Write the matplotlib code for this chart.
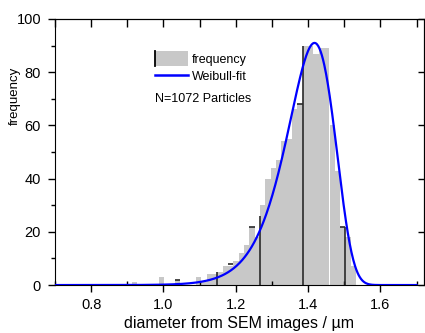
import numpy as np
import matplotlib.pyplot as plt
from matplotlib.patches import Rectangle, Patch
from matplotlib.lines import Line2D
from matplotlib.legend_handler import HandlerBase
from matplotlib.ticker import MultipleLocator

plt.rcParams['font.family'] = ['Liberation Sans', 'DejaVu Sans']

# histogram: left edge of each bin (um) and counts
bin_left = [0.913, 0.928, 0.942, 0.957, 0.972, 0.987, 1.001, 1.016, 1.031, 1.046,
            1.060, 1.075, 1.090, 1.105, 1.119, 1.134, 1.149, 1.164, 1.178, 1.193,
            1.208, 1.223, 1.237, 1.252, 1.267, 1.282, 1.296, 1.311, 1.326, 1.341,
            1.355, 1.370, 1.385, 1.400, 1.414, 1.429, 1.444, 1.459, 1.473, 1.488,
            1.503, 1.518]
counts = [1, 0, 0, 0, 0, 3, 0, 0, 2, 0,
          0, 0, 3, 1, 4, 4, 5, 7, 7, 9,
          12, 15, 22, 18, 30, 40, 44, 47, 54, 55,
          66, 68, 90, 90, 87, 89, 89, 60, 43, 22,
          18, 7]
bin_w = 0.01475

# black drop lines and small caps seen in the original
drop_x = [1.149, 1.267, 1.385, 1.503]
drop_h = [5, 26, 90, 22]
cap_x = [1.031, 1.178, 1.237, 1.370, 1.488]
cap_h = [2, 8, 22, 68, 22]

# Weibull fit parameters
wb_scale = 1.4205
wb_shape = 22
wb_peak = 91
fit_range = (0.7, 1.7)


class FreqHandler(HandlerBase):
    # gray box with a black left edge, like the original legend
    def create_artists(self, legend, orig_handle, xdescent, ydescent,
                       width, height, fontsize, trans):
        y0 = -ydescent - 0.35 * height
        h = 1.7 * height
        box = Rectangle((-xdescent, y0), width, h, facecolor='#c8c8c8',
                        edgecolor='none', transform=trans)
        edge = Line2D([-xdescent, -xdescent], [y0, y0 + h], color='k',
                      lw=1.3, transform=trans)
        return [box, edge]


fig = plt.figure(figsize=(4.25, 3.33), dpi=100)
ax = fig.add_axes([0.1294, 0.144, 0.868, 0.799])

ax.bar(bin_left, counts, width=bin_w, align='edge', color='#c8c8c8',
       linewidth=0, zorder=1)
ax.vlines(drop_x, 0, drop_h, color='#2a2a2a', lw=1.2, zorder=2)
ax.hlines(cap_h, cap_x, np.array(cap_x) + bin_w, color='#2a2a2a', lw=1.2, zorder=2)

x = np.linspace(fit_range[0], fit_range[1], 600)
z = x / wb_scale
pdf = z ** (wb_shape - 1) * np.exp(-z ** wb_shape)
ax.plot(x, wb_peak * pdf / pdf.max(), color='#0000ff', lw=1.6, zorder=3)

ax.set_xlim(0.7, 1.72)
ax.set_ylim(0, 100)
ax.xaxis.set_major_locator(MultipleLocator(0.2))
ax.xaxis.set_minor_locator(MultipleLocator(0.1))
ax.yaxis.set_major_locator(MultipleLocator(20))
ax.yaxis.set_minor_locator(MultipleLocator(10))
ax.tick_params(axis='x', which='major', direction='out', length=5, width=1,
               labelsize=10.5, top=False, pad=4)
ax.tick_params(axis='x', which='minor', direction='in', length=3, width=1, top=False)
ax.tick_params(axis='y', which='major', direction='out', length=5, width=1,
               labelsize=10.5, pad=5)
ax.tick_params(axis='y', which='minor', direction='out', length=3, width=1)

# inward ticks on top and right
sec_x = ax.secondary_xaxis('top')
sec_x.xaxis.set_major_locator(MultipleLocator(0.1))
sec_x.tick_params(direction='in', length=6, width=1, labeltop=False)
sec_y = ax.secondary_yaxis('right')
sec_y.yaxis.set_major_locator(MultipleLocator(20))
sec_y.tick_params(direction='in', length=4, width=1, labelright=False)

ax.set_xticks([0.8, 1.0, 1.2, 1.4, 1.6])
ax.set_xticklabels(['0.8', '1.0', '1.2', '1.4', '1.6'])
ax.set_xlabel('diameter from SEM images / µm', fontsize=11.5, labelpad=3)
ax.set_ylabel('frequency', fontsize=9.5)
ax.yaxis.set_label_coords(-0.093, 0.71)

handles = [Patch(), Line2D([], [], color='#0000ff', lw=1.8)]
leg = ax.legend(handles, ['frequency', 'Weibull-fit'],
                handler_map={Patch: FreqHandler()},
                loc='upper left', bbox_to_anchor=(0.27, 0.869), frameon=False,
                fontsize=9, handlelength=2.65, handletextpad=0.35,
                labelspacing=0.38, borderpad=0, borderaxespad=0)
ax.text(0.272, 0.70, 'N=1072 Particles', transform=ax.transAxes,
        fontsize=9, va='center', ha='left')

fig.savefig('out.png', dpi=100)
